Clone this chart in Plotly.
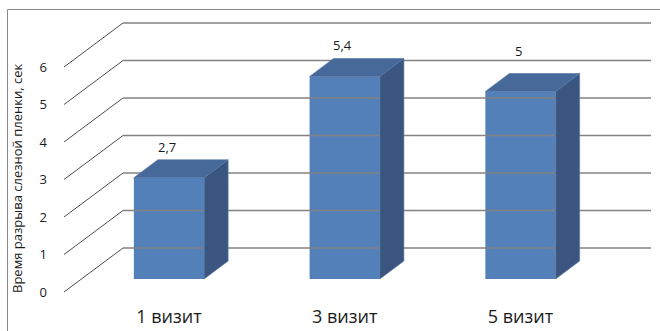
import plotly.graph_objects as go

# --- data ---
categories = ["1 визит", "3 визит", "5 визит"]
values = [2.7, 5.4, 5.0]
value_labels = ["2,7", "5,4", "5"]
y_ticks = [0, 1, 2, 3, 4, 5, 6]
y_title = "Время разрыва слезной пленки, сек"

# --- canvas / plot box (pixels) ---
W, H = 660, 331
M_L, M_R, M_T, M_B = 48, 8, 10, 30
PLOT_W = W - M_L - M_R
PLOT_H = H - M_T - M_B

# scale: pixels per category step and per value unit
PX_X = 175.75
PX_Y = 37.5
X0_PX = 169.0          # pixel x of first category centre
Y0_PX = 279.0          # pixel y of value 0 on the bar front plane

x_rng = [(M_L - X0_PX) / PX_X, (M_L + PLOT_W - X0_PX) / PX_X]
y_rng = [(Y0_PX - (M_T + PLOT_H)) / PX_Y, (Y0_PX - M_T) / PX_Y]

# pseudo-3D depth offsets (pixels -> data units)
BAR_W = 0.4
BAR_DX, BAR_DY = 24 / PX_X, 18 / PX_Y            # column depth
BACK_DY = 31 / PX_Y                              # back wall above bar plane
FRONT_DY = 13 / PX_Y                             # front edge below bar plane
WALL_X_FRONT = (64 - X0_PX) / PX_X
WALL_X_BACK = (123 - X0_PX) / PX_X
GRID_X_END = (651 - X0_PX) / PX_X

C_FRONT = "#5480B9"
C_TOP = "#46699A"
C_SIDE = "#3A5680"
C_GRID = "#828282"
C_DIAG = "#4d4d4d"
C_TEXT = "#1a1a1a"

xs = list(range(len(categories)))
fig = go.Figure()

# back-wall gridlines and side-wall diagonals
gx, gy, dx, dy = [], [], [], []
for t in y_ticks:
    gx += [WALL_X_BACK, GRID_X_END, None]
    gy += [t + BACK_DY, t + BACK_DY, None]
    dx += [WALL_X_FRONT, WALL_X_BACK, None]
    dy += [t - FRONT_DY, t + BACK_DY, None]
fig.add_trace(go.Scatter(x=gx, y=gy, mode="lines", line=dict(color=C_GRID, width=1.7),
                         hoverinfo="skip", showlegend=False))
fig.add_trace(go.Scatter(x=dx, y=dy, mode="lines", line=dict(color=C_DIAG, width=1),
                         hoverinfo="skip", showlegend=False))

# column front faces
fig.add_trace(go.Bar(x=xs, y=values, width=BAR_W, marker=dict(color=C_FRONT, line=dict(width=0)),
                     showlegend=False, hoverinfo="skip"))

# column side and top faces
h = BAR_W / 2
for x, v in zip(xs, values):
    fig.add_trace(go.Scatter(
        x=[x + h, x + h, x + h + BAR_DX, x + h + BAR_DX, x + h],
        y=[0, v, v + BAR_DY, BAR_DY, 0],
        fill="toself", fillcolor=C_SIDE, mode="lines", line=dict(width=0.6, color="#5a78a0"),
        hoverinfo="skip", showlegend=False))
    fig.add_trace(go.Scatter(
        x=[x - h, x + h, x + h + BAR_DX, x - h + BAR_DX, x - h],
        y=[v, v, v + BAR_DY, v + BAR_DY, v],
        fill="toself", fillcolor=C_TOP, mode="lines", line=dict(width=0.6, color="#4f74a6"),
        hoverinfo="skip", showlegend=False))

# value labels
label_shift = [31, 32, 41]
for x, v, txt, s in zip(xs, values, value_labels, label_shift):
    fig.add_annotation(x=x - 0.01, y=v, text=txt, showarrow=False, yshift=s,
                       font=dict(family="Open Sans", size=13, color=C_TEXT))

# y title
fig.add_annotation(xref="paper", yref="paper",
                   x=(17 - M_L) / PLOT_W, y=(M_T + PLOT_H - 179) / PLOT_H,
                   xanchor="center", yanchor="middle",
                   text=y_title, textangle=-90, showarrow=False,
                   font=dict(family="Open Sans", size=13, color=C_TEXT))

# chart-area border
fig.add_shape(type="path", xref="paper", yref="paper",
              path="M {0},{2} L {0},{1} L {3},{1}".format(
                  (7.5 - M_L) / PLOT_W, (M_T + PLOT_H - 9.5) / PLOT_H,
                  -0.2, 1.2),
              line=dict(color="#888888", width=1))

fig.update_layout(
    width=W, height=H,
    margin=dict(l=M_L, r=M_R, t=M_T, b=M_B, autoexpand=False),
    paper_bgcolor="white", plot_bgcolor="white",
    xaxis=dict(range=x_rng, tickvals=xs, ticktext=categories, showgrid=False,
               zeroline=False, showline=False, ticks="", ticklabelstandoff=3,
               automargin=False,
               tickfont=dict(family="Open Sans", size=18, color=C_TEXT)),
    yaxis=dict(range=y_rng, showgrid=False, zeroline=False, showticklabels=False,
               showline=False, automargin=False),
    yaxis2=dict(range=[y_rng[0] + FRONT_DY, y_rng[1] + FRONT_DY], overlaying="y", side="left",
                tickvals=y_ticks, showgrid=False, zeroline=False, showline=False, ticks="",
                automargin=False,
                tickfont=dict(family="Open Sans", size=13, color=C_TEXT)),
    showlegend=False,
)
# a hidden trace so the second y axis is drawn
fig.add_trace(go.Scatter(x=[None], y=[None], yaxis="y2", showlegend=False))

fig.write_html("out.html")
